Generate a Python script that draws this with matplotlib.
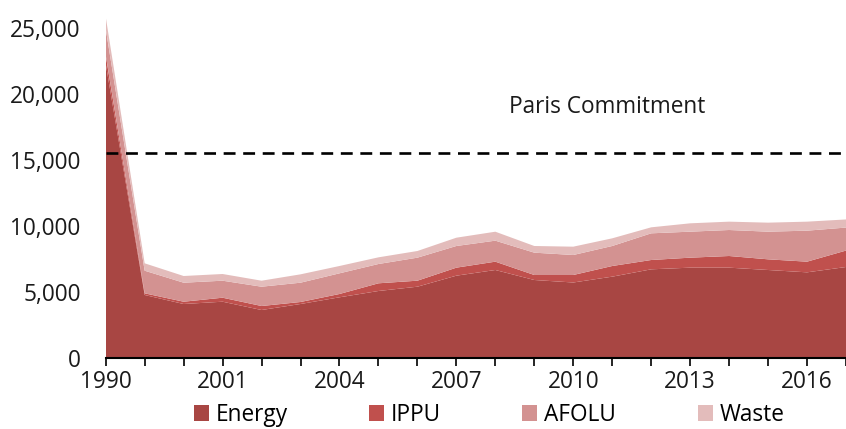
import matplotlib
matplotlib.use("Agg")
import matplotlib.pyplot as plt
from matplotlib.patches import Patch
import numpy as np

plt.rcParams['font.family'] = ['Open Sans', 'DejaVu Sans']

years = [1990, 1999, 2000, 2001, 2002, 2003, 2004, 2005, 2006, 2007, 2008,
         2009, 2010, 2011, 2012, 2013, 2014, 2015, 2016, 2017]
energy = [22300, 4773, 4091, 4265, 3636, 4091, 4598, 5076, 5402, 6237, 6667,
          5909, 5720, 6162, 6718, 6844, 6844, 6667, 6490, 6894]
ippu = [650, 127, 174, 303, 303, 152, 251, 583, 455, 607, 631,
        379, 568, 808, 706, 757, 883, 808, 808, 1245]
afolu = [2000, 1714, 1440, 1288, 1463, 1462, 1566, 1462, 1744, 1641, 1591,
         1692, 1515, 1515, 2021, 1970, 1970, 2096, 2348, 1743]
waste = [900, 560, 507, 508, 454, 633, 555, 505, 505, 629, 679,
         505, 631, 581, 455, 632, 632, 682, 683, 615]
series_names = ["Energy", "IPPU", "AFOLU", "Waste"]
colors = ["#A84643", "#C0504D", "#D39291", "#E3BCBB"]
paris_commitment = 15500
tick_years = [1990, 2001, 2004, 2007, 2010, 2013, 2016]

FS = 16.3
W, H = 846, 429
fig = plt.figure(figsize=(W / 100, H / 100), dpi=100)
left_px, right_px, bottom_px, top_px = 105.7, 846, 358, 14.8
ax = fig.add_axes([left_px / W, (H - bottom_px) / H,
                   (right_px - left_px) / W, (bottom_px - top_px) / H])

x = np.arange(len(years))
ax.stackplot(x, energy, ippu, afolu, waste, colors=colors, linewidth=0)

ax.axhline(paris_commitment, color='black', lw=1.9, dashes=(4.5, 2.9), zorder=3)
ax.text(10.35, 19000, "Paris Commitment", fontsize=FS, va='center', ha='left',
        color='#1a1a1a')

step = (816 - 105.7) / 18
ax.set_xlim(0, 18 + (846 - 816) / step)
ax.set_ylim(0, 26000)

ax.set_xticks(x)
ax.set_xticklabels([str(y) if y in tick_years else "" for y in years])
ax.set_yticks([0, 5000, 10000, 15000, 20000, 25000])
ax.set_yticklabels(["0", "5,000", "10,000", "15,000", "20,000", "25,000"])
ax.tick_params(axis='x', length=6, width=1.2, direction='out', pad=3,
               labelsize=FS, colors='black', labelcolor='#1a1a1a')
ax.tick_params(axis='y', length=0, pad=18, labelsize=FS, labelcolor='#1a1a1a')

for s in ['left', 'right', 'top']:
    ax.spines[s].set_visible(False)
ax.spines['bottom'].set_color('black')
ax.spines['bottom'].set_linewidth(1.5)
ax.spines['bottom'].set_zorder(5)

handles = [Patch(facecolor=c, edgecolor='none') for c in colors]
fig.legend(handles, series_names, loc='center', bbox_to_anchor=(0.578, 0.033),
           ncol=4, frameon=False, fontsize=FS, handlelength=0.66,
           handleheight=0.66, handletextpad=0.3, columnspacing=3.6,
           borderpad=0, borderaxespad=0)

fig.savefig("out.png", dpi=100)
